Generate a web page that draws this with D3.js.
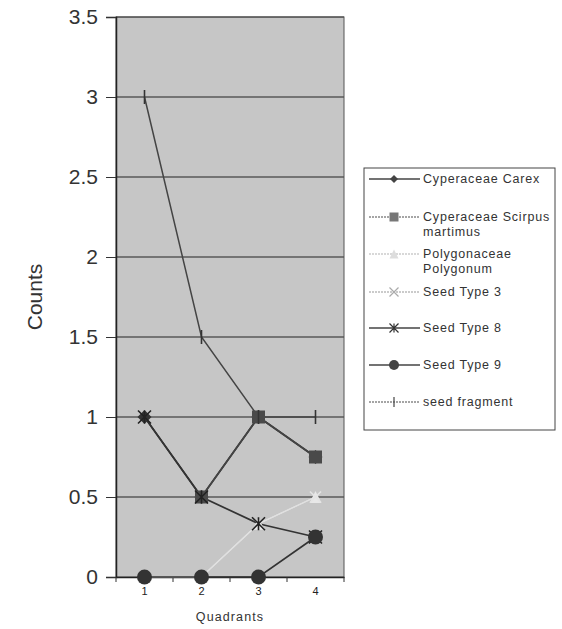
<!DOCTYPE html>
<html><head><meta charset="utf-8">
<script src="https://cdn.jsdelivr.net/npm/d3@7"></script>
<style>body{margin:0;background:#fff;} svg{display:block;font-family:"Liberation Sans",Arial,sans-serif;}</style>
</head><body>
<script>
const quadrants = ["1","2","3","4"];
const yTicks = [0,0.5,1,1.5,2,2.5,3,3.5];
const carex = [1, 0.5, 1, 0.75];
const scirpus = [null, 0.5, 1, 0.75];
const polygonum = [0, 0, 0.333, 0.5];
const seedType3 = [0, 0, 0.333, 0.5];
const seedType8 = [1, 0.5, 0.333, 0.25];
const seedType9 = [0, 0, 0, 0.25];
const seedFragment = [3, 1.5, 1, 1];
const seriesNames = ["Cyperaceae Carex","Cyperaceae Scirpus martimus","Polygonaceae Polygonum","Seed Type 3","Seed Type 8","Seed Type 9","seed fragment"];
const seriesValues = [carex, scirpus, polygonum, seedType3, seedType8, seedType9, seedFragment];

(function(){
const styles = [
  {marker:"diamond", color:"#333", width:1.7, size:14, fill:"#333"},
  {marker:"square", color:"#444", width:1.7, size:13, fill:"#4a4a4a"},
  {marker:"triangle", color:"#e4e4e4", width:1.2, size:12, fill:"#e8e8e8"},
  {marker:"x", color:"#e0e0e0", width:1.2, size:11, stroke:"#e4e4e4"},
  {marker:"star", color:"#333", width:1.7, size:13, stroke:"#222"},
  {marker:"circle", color:"#333", width:1.7, size:15, fill:"#333"},
  {marker:"bar", color:"#444", width:1.5, size:14, stroke:"#333"}
];
const legendStyles = [
  {color:"#444", dash:null, size:8, fill:"#444"},
  {color:"#888", dash:"2,1", size:9, fill:"#777"},
  {color:"#ccc", dash:"2,1", size:9, fill:"#ddd"},
  {color:"#bbb", dash:"2,1", size:9, stroke:"#aaa"},
  {color:"#444", dash:null, size:9, stroke:"#333"},
  {color:"#444", dash:null, size:10, fill:"#444"},
  {color:"#888", dash:"2,1", size:10, stroke:"#444"}
];

const W=562,H=629;
const svg=d3.select("body").append("svg").attr("width",W).attr("height",H);
const pL=116,pR=344,pT=17,pB=577;
const x=d3.scaleBand().domain(quadrants).range([pL,pR]);
const y=d3.scaleLinear().domain([0,3.5]).range([pB,pT]);

svg.append("rect").attr("x",pL).attr("y",pT).attr("width",pR-pL).attr("height",pB-pT).attr("fill","#c6c6c6");

svg.append("g").selectAll("line").data(yTicks.slice(1)).join("line")
  .attr("x1",pL).attr("x2",pR).attr("y1",d=>y(d)).attr("y2",d=>y(d))
  .attr("stroke","#222").attr("stroke-width",1);
svg.append("rect").attr("x",pL).attr("y",pT).attr("width",pR-pL).attr("height",pB-pT)
  .attr("fill","none").attr("stroke","#555").attr("stroke-width",1);

const ya=svg.append("g").attr("transform",`translate(${pL},0)`)
  .call(d3.axisLeft(y).tickValues(yTicks).tickSize(10).tickPadding(8).tickFormat(d3.format("")));
ya.select(".domain").attr("stroke","#222").attr("stroke-width",1.5);
ya.selectAll(".tick line").attr("stroke","#333");
ya.selectAll("text").attr("font-size",21).attr("fill","#333").attr("font-family","Liberation Sans, Arial, sans-serif");

const xa=svg.append("g").attr("transform",`translate(0,${pB})`)
  .call(d3.axisBottom(x).tickSize(0).tickPadding(10));
xa.select(".domain").attr("stroke","#222").attr("stroke-width",1.5);
xa.selectAll("text").attr("font-size",11).attr("fill","#222").attr("font-family","Liberation Sans, Arial, sans-serif");
svg.append("g").selectAll("line").data(quadrants.concat(["end"])).join("line")
  .attr("x1",(d,i)=>pL+i*x.step()).attr("x2",(d,i)=>pL+i*x.step())
  .attr("y1",pB).attr("y2",pB+5).attr("stroke","#333");

svg.append("text").attr("x",(pL+pR)/2).attr("y",621).attr("text-anchor","middle")
  .attr("font-size",12.5).attr("letter-spacing",1.1).attr("fill","#333").text("Quadrants");
svg.append("text").attr("transform","translate(42,297) rotate(-90)").attr("text-anchor","middle")
  .attr("font-size",21).attr("fill","#333").text("Counts");

function markerPath(type,s){
  switch(type){
    case "diamond": return `M0,${-s/2}L${s/2},0L0,${s/2}L${-s/2},0Z`;
    case "square": return `M${-s/2},${-s/2}h${s}v${s}h${-s}Z`;
    case "triangle": return `M0,${-s/2}L${s/2},${s/2}H${-s/2}Z`;
    case "circle": return d3.symbol(d3.symbolCircle, Math.PI*s*s/4)();
    case "x": return `M${-s/2},${-s/2}L${s/2},${s/2}M${-s/2},${s/2}L${s/2},${-s/2}`;
    case "star": return `M${-s/2},${-s/2}L${s/2},${s/2}M${-s/2},${s/2}L${s/2},${-s/2}M0,${-s/2}V${s/2}`;
    case "bar": return `M0,${-s/2}V${s/2}`;
  }
}
const filledTypes=["diamond","square","triangle","circle"];
const line=d3.line().defined(d=>d.v!=null).x(d=>x(d.q)+x.bandwidth()/2).y(d=>y(d.v));
const drawOrder=[2,3,0,1,4,5,6];
drawOrder.forEach(i=>{
  const data=quadrants.map((q,j)=>({q,v:seriesValues[i][j]}));
  svg.append("path").datum(data).attr("d",line).attr("fill","none")
    .attr("stroke",styles[i].color).attr("stroke-width",styles[i].width);
});
drawOrder.forEach(i=>{
  const st=styles[i];
  const data=quadrants.map((q,j)=>({q,v:seriesValues[i][j]})).filter(d=>d.v!=null);
  const filled=filledTypes.includes(st.marker);
  svg.append("g").selectAll("path").data(data).join("path")
    .attr("transform",d=>`translate(${x(d.q)+x.bandwidth()/2},${y(d.v)})`)
    .attr("d",markerPath(st.marker,st.size))
    .attr("fill",filled?st.fill:"none")
    .attr("stroke",filled?"none":st.stroke).attr("stroke-width",1.6);
});

const lg=svg.append("g");
lg.append("rect").attr("x",364).attr("y",168).attr("width",191).attr("height",262)
  .attr("fill","#fff").attr("stroke","#444").attr("stroke-width",1);
const legendRows=[
  {y:179, lines:["Cyperaceae Carex"]},
  {y:217, lines:["Cyperaceae Scirpus","martimus"]},
  {y:254, lines:["Polygonaceae","Polygonum"]},
  {y:292, lines:["Seed Type 3"]},
  {y:328, lines:["Seed Type 8"]},
  {y:365, lines:["Seed Type 9"]},
  {y:402, lines:["seed fragment"]}
];
legendRows.forEach((r,i)=>{
  const st=styles[i], ls=legendStyles[i];
  lg.append("line").attr("x1",369).attr("x2",420).attr("y1",r.y).attr("y2",r.y)
    .attr("stroke",ls.color).attr("stroke-width",1.3).attr("stroke-dasharray",ls.dash);
  const filled=filledTypes.includes(st.marker);
  lg.append("path").attr("transform",`translate(394,${r.y})`).attr("d",markerPath(st.marker,ls.size))
    .attr("fill",filled?ls.fill:"none").attr("stroke",filled?"none":ls.stroke).attr("stroke-width",1.2);
  r.lines.forEach((t,k)=>{
    lg.append("text").attr("x",423).attr("y",r.y+4+k*15).attr("font-size",12.5).attr("fill","#333")
      .attr("letter-spacing",0.8).text(t);
  });
});
})();
</script>
</body></html>
